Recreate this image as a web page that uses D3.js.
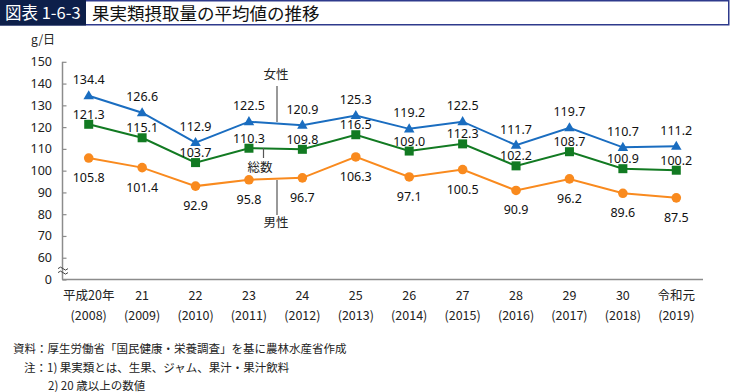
<!DOCTYPE html>
<html><head><meta charset="utf-8">
<script src="https://cdn.jsdelivr.net/npm/d3@7/dist/d3.min.js"></script>
<style>
body{margin:0;background:#fff;}
svg{display:block;font-family:"Noto Sans CJK JP","Noto Sans",sans-serif;}
</style></head>
<body><svg id="c" width="730" height="392"></svg>
<script>
const eraLabels = ["平成20年","21","22","23","24","25","26","27","28","29","30","令和元"];
const yearLabels = ["(2008)","(2009)","(2010)","(2011)","(2012)","(2013)","(2014)","(2015)","(2016)","(2017)","(2018)","(2019)"];
const female = [134.4,126.6,112.9,122.5,120.9,125.3,119.2,122.5,111.7,119.7,110.7,111.2];
const total  = [121.3,115.1,103.7,110.3,109.8,116.5,109.0,112.3,102.2,108.7,100.9,100.2];
const male   = [105.8,101.4,92.9,95.8,96.7,106.3,97.1,100.5,90.9,96.2,89.6,87.5];
const yTicks = [50,60,70,80,90,100,110,120,130,140,150];
const yTickLabels = ["0","60","70","80","90","100","110","120","130","140","150"];

const svg = d3.select("#c");
// Title bar
svg.append("rect").attr("x",0.75).attr("y",0.75).attr("width",728).attr("height",24).attr("fill","#fff").attr("stroke","#2e3a8c").attr("stroke-width",1.5);
svg.append("rect").attr("x",0).attr("y",0).attr("width",86).attr("height",25.5).attr("fill","#0d1f4a");
svg.append("text").attr("x",5).attr("y",19).attr("fill","#fff").attr("font-size",16.5).text("図表 1-6-3");
svg.append("text").attr("x",92).attr("y",19.5).attr("fill","#111").attr("font-size",17.5).text("果実類摂取量の平均値の推移");

const x = d3.scalePoint().domain(eraLabels).range([62,703]).padding(0.5);
const y = d3.scaleLinear().domain([50,150]).range([279.5,61.8]);

// axes
const axisColor = "#8c8c8c";
const yAxis = svg.append("g").attr("transform","translate(62.5,0)")
  .call(d3.axisRight(y).tickValues(yTicks).tickSize(4).tickFormat(""));
yAxis.select(".domain").attr("stroke",axisColor).attr("stroke-width",1.5).attr("d","M0,"+y(150)+"V"+y(50));
yAxis.selectAll(".tick line").attr("stroke",axisColor).attr("stroke-width",1.2);
svg.append("g").selectAll("text").data(yTicks).join("text")
  .attr("x",52).attr("y",d=>y(d)+4.5).attr("text-anchor","end").attr("font-size",12.5).attr("fill","#222")
  .attr("font-family","Noto Sans, sans-serif")
  .text((d,i)=>yTickLabels[i]);
svg.append("text").attr("x",31).attr("y",44).attr("font-size",12).attr("fill","#222").text("g/日");
// break mark
const by = (y(60)+y(50))/2 + 1;
[ -2, 2 ].forEach(o=>{
  svg.append("path").attr("d",`M58,${by+o+1} q2.5,-3 5,0 t5,0`).attr("fill","none").attr("stroke","#444").attr("stroke-width",1);
});

const xAxis = svg.append("g").attr("transform","translate(0,279.5)")
  .call(d3.axisBottom(x).tickSize(0).tickFormat(""));
xAxis.select(".domain").attr("stroke",axisColor).attr("stroke-width",1.5).attr("d","M62,0H703");

const xl = svg.append("g").attr("fill","#222").attr("font-size",12.5).attr("text-anchor","middle");
xl.selectAll("text.e").data(eraLabels).join("text").attr("class","e")
  .attr("x",d=>x(d)).attr("y",300).text(d=>d);
xl.selectAll("text.yr").data(yearLabels).join("text").attr("class","yr")
  .attr("x",(d,i)=>x(eraLabels[i])).attr("y",320).text(d=>d);

// series
const series = [
  {name:"女性", vals:female, color:"#1a6dc0", marker:"tri", dy:-16},
  {name:"総数", vals:total, color:"#127a22", marker:"sq", dy:-10},
  {name:"男性", vals:male, color:"#f98a1e", marker:"circ", dy:19.5}
];
const line = d3.line().x((d,i)=>x(eraLabels[i])).y(d=>y(d));
series.forEach(s=>{
  svg.append("path").datum(s.vals).attr("d",line).attr("fill","none").attr("stroke",s.color).attr("stroke-width",2);
});
series.forEach(s=>{
  const g = svg.append("g").attr("fill",s.color);
  s.vals.forEach((v,i)=>{
    const cx = x(eraLabels[i]), cy = y(v);
    if(s.marker==="tri") g.append("path").attr("d",d3.symbol(d3.symbolTriangle,48)(),).attr("transform",`translate(${cx},${cy+0.5})`);
    else if(s.marker==="sq") g.append("rect").attr("x",cx-4.5).attr("y",cy-4.5).attr("width",9).attr("height",9);
    else g.append("circle").attr("cx",cx).attr("cy",cy).attr("r",4.8);
  });
});
series.forEach(s=>{
  svg.append("g").selectAll("text").data(s.vals).join("text")
    .attr("x",(d,i)=>x(eraLabels[i])).attr("y",d=>y(d)+s.dy+4.5)
    .attr("text-anchor","middle").attr("font-size",12.5).attr("fill","#111")
    .attr("font-family","Noto Sans, sans-serif")
    .text(d=>d.toFixed(1));
});

// series annotations
const ann = svg.append("g").attr("font-size",12.5).attr("fill","#222").attr("text-anchor","middle");
const lx = 277;
ann.append("text").attr("x",lx-1).attr("y",79).text("女性");
svg.append("line").attr("x1",lx).attr("x2",lx).attr("y1",86).attr("y2",122).attr("stroke","#555").attr("stroke-width",1.2);
ann.append("text").attr("x",260).attr("y",172).text("総数");
svg.append("line").attr("x1",263.5).attr("x2",263.5).attr("y1",148).attr("y2",158).attr("stroke","#555").attr("stroke-width",1.2);
ann.append("text").attr("x",lx-1).attr("y",227).text("男性");
svg.append("line").attr("x1",lx).attr("x2",lx).attr("y1",180).attr("y2",215).attr("stroke","#555").attr("stroke-width",1.2);

// notes
const notes = svg.append("g").attr("font-size",11.5).attr("fill","#222");
notes.append("text").attr("x",13).attr("y",353).text("資料：厚生労働省「国民健康・栄養調査」を基に農林水産省作成");
notes.append("text").attr("x",24).attr("y",372).text("注：1) 果実類とは、生果、ジャム、果汁・果汁飲料");
notes.append("text").attr("x",48).attr("y",390).text("2) 20 歳以上の数値");
</script></body></html>
